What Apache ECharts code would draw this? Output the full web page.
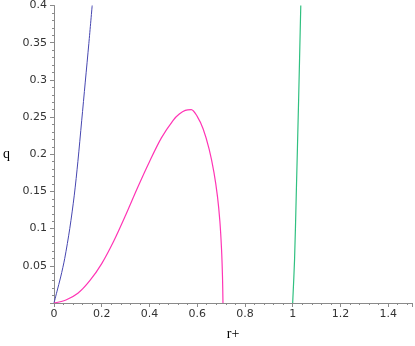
<!DOCTYPE html>
<html>
<head>
    <meta charset="utf-8">
    <title>q vs r+</title>
    <script src="https://cdn.jsdelivr.net/npm/echarts@6/dist/echarts.min.js"></script>
    <style>
        html, body { margin: 0; padding: 0; background: #fff; }
    </style>
</head>
<body>
    <div id="main" style="width: 415px;height:346px;"></div>
    <script type="text/javascript">
        // 曲线数据 [r+, q]
        var blueCurve = [[0, 0], [0.012, 0.015], [0.028, 0.035], [0.045, 0.06], [0.066, 0.1],
            [0.085, 0.145], [0.1, 0.19], [0.116, 0.245], [0.131, 0.297], [0.146, 0.349], [0.16, 0.4]];
        var pinkCurve = [[0, 0], [0.05, 0.004], [0.1, 0.013], [0.15, 0.03], [0.2, 0.053],
            [0.25, 0.083], [0.3, 0.118], [0.35, 0.155], [0.4, 0.19], [0.45, 0.222],
            [0.5, 0.246], [0.525, 0.254], [0.55, 0.259], [0.575, 0.26], [0.6, 0.251],
            [0.625, 0.234], [0.65, 0.207], [0.67, 0.176], [0.685, 0.143], [0.695, 0.11],
            [0.702, 0.072], [0.706, 0.035], [0.708, 0]];
        var greenCurve = [[1, 0], [1.008, 0.059], [1.015, 0.145], [1.025, 0.274], [1.034, 0.4]];

        var xTicks = [0, 0.2, 0.4, 0.6, 0.8, 1, 1.2, 1.4];
        var yTicks = [0.05, 0.1, 0.15, 0.2, 0.25, 0.3, 0.35, 0.4];

        var myChart = echarts.init(document.getElementById('main'));

        var axisColor = '#8a8a8a';
        var labelFont = { color: '#333', fontSize: 11, fontFamily: 'DejaVu Sans' };

        var option = {
            animation: false,
            grid: { left: 52, right: 0, top: 3, bottom: 34, containLabel: false },
            xAxis: {
                type: 'value',
                min: 0,
                max: 1.5,
                interval: 0.2,
                name: 'r+',
                nameLocation: 'middle',
                nameGap: 24,
                nameTextStyle: { fontFamily: 'Liberation Serif', fontSize: 14, color: '#000' },
                axisLine: { show: true, lineStyle: { color: axisColor } },
                axisTick: { show: true, length: 4, lineStyle: { color: axisColor } },
                minorTick: { show: true, splitNumber: 5, length: 2, lineStyle: { color: axisColor } },
                splitLine: { show: false },
                axisLabel: {
                    margin: 6,
                    color: labelFont.color, fontSize: labelFont.fontSize, fontFamily: labelFont.fontFamily,
                    formatter: function (v) {
                        var r = Math.round(v * 10) / 10;
                        return xTicks.indexOf(r) >= 0 ? String(r) : '';
                    }
                }
            },
            yAxis: {
                type: 'value',
                min: 0,
                max: 0.4,
                interval: 0.05,
                name: 'q',
                nameLocation: 'middle',
                nameGap: 44,
                nameRotate: 0,
                nameTextStyle: { fontFamily: 'Liberation Serif', fontSize: 14, color: '#000' },
                axisLine: { show: true, lineStyle: { color: axisColor } },
                axisTick: { show: true, length: 4, lineStyle: { color: axisColor } },
                minorTick: { show: true, splitNumber: 5, length: 2, lineStyle: { color: axisColor } },
                splitLine: { show: false },
                axisLabel: {
                    margin: 7,
                    color: labelFont.color, fontSize: labelFont.fontSize, fontFamily: labelFont.fontFamily,
                    formatter: function (v) {
                        var r = Math.round(v * 100) / 100;
                        return yTicks.indexOf(r) >= 0 ? String(r) : '';
                    }
                }
            },
            series: [
                {
                    type: 'line', data: blueCurve, showSymbol: false, smooth: 0.3,
                    lineStyle: { color: '#4646b0', width: 1 }
                },
                {
                    type: 'line', data: pinkCurve, showSymbol: false, smooth: 0.3,
                    lineStyle: { color: '#ff35b5', width: 1.2 }
                },
                {
                    type: 'line', data: greenCurve, showSymbol: false, smooth: 0.3,
                    lineStyle: { color: '#30c080', width: 1.2 }
                }
            ]
        };

        myChart.setOption(option);
    </script>
</body>
</html>
